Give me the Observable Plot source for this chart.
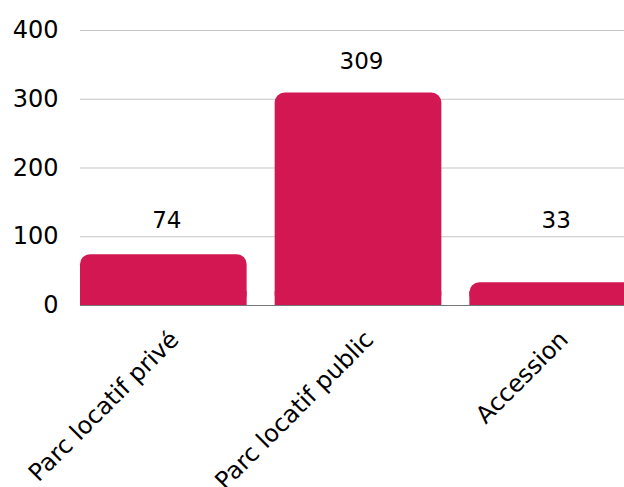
<!DOCTYPE html>
<html>
<head>
<meta charset="utf-8">
<script src="https://cdn.jsdelivr.net/npm/d3@7"></script>
<script src="https://cdn.jsdelivr.net/npm/@observablehq/plot@0.6"></script>
<style>
  html, body { margin: 0; padding: 0; background: #fff; overflow: hidden; }
  #chart svg { overflow: hidden; }
</style>
</head>
<body>
<div id="chart"></div>
<script>
const categories = ["Parc locatif privé", "Parc locatif public", "Accession"];
const values = [74, 309, 33];
const yTicks = [0, 100, 200, 300, 400];

const data = categories.map((c, i) => ({category: c, value: values[i]}));
const barColor = "#D31752";
const font = "DejaVu Sans, sans-serif";

const chart = Plot.plot({
  width: 624,
  height: 487,
  marginTop: 30,
  marginBottom: 182,
  marginLeft: 80,
  marginRight: 0,
  style: {fontFamily: font, background: "#fff", overflow: "hidden"},
  x: {domain: categories, range: [80, 636], paddingInner: 0.144, paddingOuter: 0, align: 0, round: false, axis: null},
  y: {domain: [0, 400], axis: null},
  marks: [
    Plot.ruleY(yTicks.filter(t => t > 0), {stroke: "#c4c4c4", strokeWidth: 1}),
    Plot.ruleY([0], {stroke: "#777", strokeWidth: 1}),
    Plot.axisY({ticks: yTicks, tickSize: 0, tickPadding: 22, fontSize: 24, label: null, fill: "#000", tickFormat: d => String(d)}),
    Plot.barY(data, {x: "category", y: "value", fill: barColor, rx: 10}),
    Plot.barY(data, {x: "category", y1: 0, y2: d => Math.min(d.value, 20), fill: barColor}),
    Plot.text(data, {x: "category", y: d => Math.max(d.value, 79), text: d => String(d.value), dy: -31, dx: 3, fontSize: 23, fill: "#000"}),
    Plot.text(data, {x: "category", frameAnchor: "bottom", text: "category", rotate: -45, textAnchor: "end", lineAnchor: "middle", dx: 11, dy: 30, fontSize: 24, fill: "#000"})
  ]
});
document.getElementById("chart").appendChild(chart);
</script>
</body>
</html>
